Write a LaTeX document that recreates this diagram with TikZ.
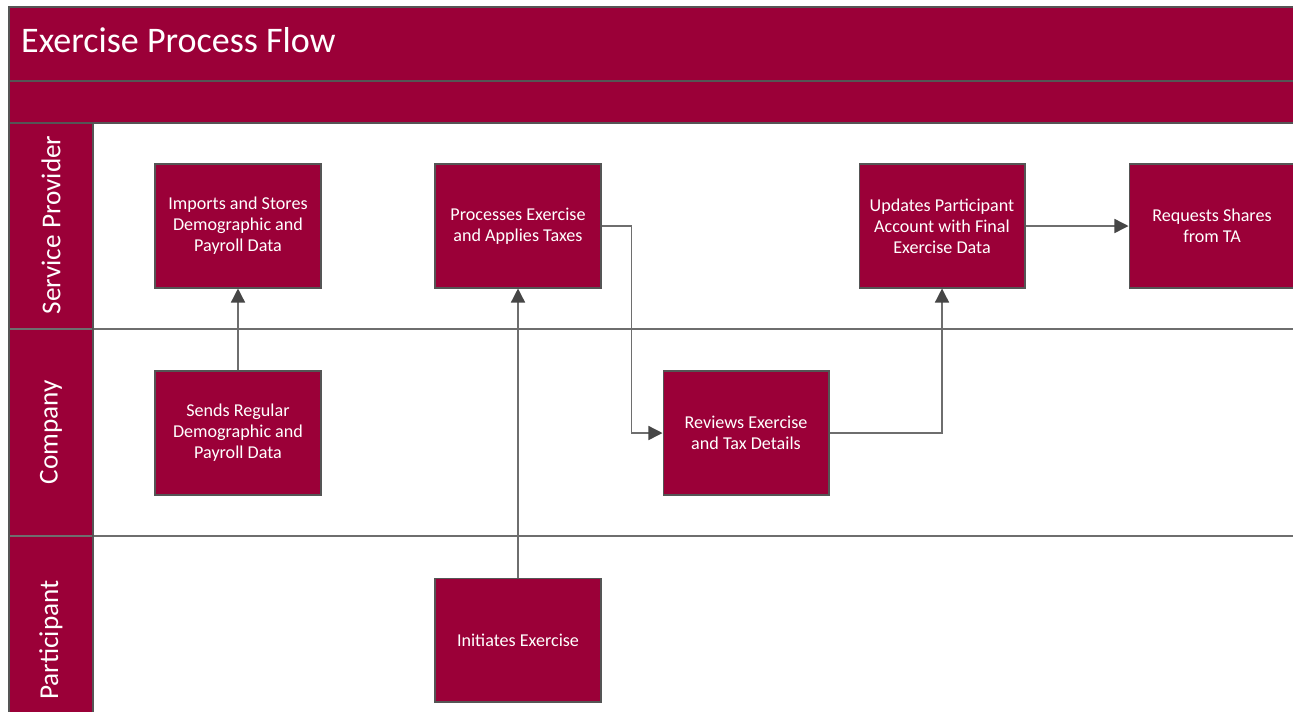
\documentclass[tikz,border=0pt]{standalone}
\usepackage{fontspec}
\setmainfont{Carlito}
\usetikzlibrary{arrows.meta}
\definecolor{wine}{RGB}{155,0,56}
\definecolor{edgegray}{RGB}{85,85,85}
\definecolor{linegray}{RGB}{110,110,110}
\definecolor{tipgray}{RGB}{70,70,70}
\begin{document}
\begin{tikzpicture}[x=0.02cm,y=-0.02cm,
  task/.style={draw=edgegray,fill=wine,text=white,line width=0.6pt,
    minimum width=3.32cm,minimum height=2.48cm,align=center,
    font=\fontsize{10.3}{12}\selectfont},
  flow/.style={draw=linegray,line width=0.8pt,
    -{Triangle[length=8pt,width=8pt,color=tipgray]}},
  lanetext/.style={text=white,rotate=90,font=\fontsize{15.5}{18}\selectfont}]
\clip (0,0) rectangle (1293,711);
\useasboundingbox (0,0) rectangle (1293,711);
\fill[white] (0,0) rectangle (1293,711);
% header and lane column
\fill[wine] (9,7) rectangle (1300,123);
\fill[wine] (9,123) rectangle (93,720);
\draw[edgegray,line width=0.8pt] (9,81) -- (1300,81);
\draw[edgegray,line width=0.8pt] (9,123) -- (1300,123);
\draw[linegray,line width=0.9pt] (9,329) -- (1300,329);
\draw[linegray,line width=0.9pt] (9,536) -- (1300,536);
\draw[edgegray,line width=0.9pt] (93,123) -- (93,720);
\draw[edgegray,line width=1.1pt] (9,720) -- (9,7) -- (1300,7);
\node[anchor=west,text=white,font=\fontsize{20.5}{24}\selectfont] (title) at (15,40) {Exercise Process Flow};
\node[lanetext] (laneSP) at (51,225) {Service Provider};
\node[lanetext] (laneCo) at (51,432) {Company};
\node[lanetext] (lanePa) at (51,640) {Participant};
% tasks
\node[task] (imports) at (238,226) {Imports and Stores\\Demographic and\\Payroll Data};
\node[task] (processes) at (518,226) {Processes Exercise\\and Applies Taxes};
\node[task] (updates) at (942,226) {Updates Participant\\Account with Final\\Exercise Data};
\node[task] (requests) at (1212,226) {Requests Shares\\from TA};
\node[task] (sends) at (238,433) {Sends Regular\\Demographic and\\Payroll Data};
\node[task] (reviews) at (746,433) {Reviews Exercise\\and Tax Details};
\node[task] (initiates) at (518,640) {Initiates Exercise};
% flows
\draw[flow] (sends) -- (imports);
\draw[flow] (initiates) -- (processes);
\draw[flow] (processes.east) -- ++(30,0) |- (reviews.west);
\draw[flow] (reviews.east) -| (updates.south);
\draw[flow] (updates) -- (requests);
\end{tikzpicture}
\end{document}
